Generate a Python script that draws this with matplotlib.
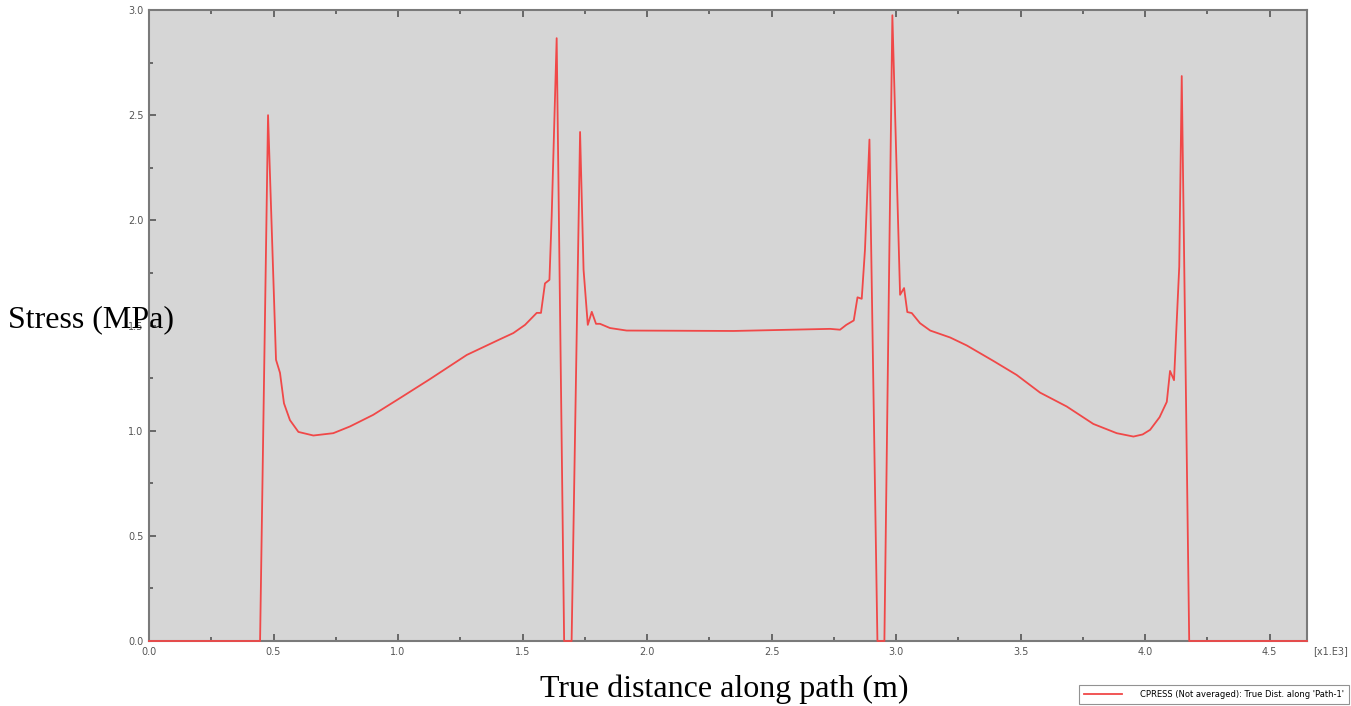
import matplotlib
matplotlib.use("Agg")
import matplotlib.pyplot as plt
from matplotlib.ticker import MultipleLocator

# Data (distance in x1.E3 m, stress in MPa)
distance = [0.0, 0.446, 0.478, 0.51, 0.526, 0.542, 0.566, 0.60, 0.66, 0.74,
            0.807, 0.90, 1.008, 1.128, 1.276, 1.41, 1.463, 1.51, 1.557, 1.574,
            1.59, 1.608, 1.617, 1.637, 1.667, 1.697, 1.731, 1.745, 1.762, 1.778,
            1.795, 1.811, 1.851, 1.918, 2.347, 2.735, 2.775, 2.80, 2.83, 2.845,
            2.862, 2.875, 2.893, 2.925, 2.953, 2.985, 3.016, 3.032, 3.045, 3.063,
            3.096, 3.137, 3.217, 3.284, 3.39, 3.484, 3.578, 3.685, 3.792, 3.886,
            3.953, 3.99, 4.02, 4.058, 4.087, 4.10, 4.116, 4.137, 4.147, 4.177, 4.65]
cpress = [0.0, 0.0, 2.50, 1.337, 1.275, 1.13, 1.05, 0.994, 0.977, 0.988,
          1.02, 1.075, 1.155, 1.245, 1.36, 1.435, 1.464, 1.503, 1.56, 1.56,
          1.70, 1.717, 2.02, 2.866, 0.0, 0.0, 2.42, 1.765, 1.503, 1.565,
          1.508, 1.508, 1.488, 1.476, 1.474, 1.484, 1.48, 1.503, 1.524, 1.634,
          1.627, 1.86, 2.384, 0.0, 0.0, 2.975, 1.646, 1.678, 1.564, 1.559,
          1.511, 1.476, 1.443, 1.405, 1.332, 1.265, 1.181, 1.115, 1.032, 0.988,
          0.972, 0.982, 1.004, 1.064, 1.137, 1.284, 1.24, 1.78, 2.686, 0.0, 0.0]

x_ticks = [0.0, 0.5, 1.0, 1.5, 2.0, 2.5, 3.0, 3.5, 4.0, 4.5]
y_ticks = [0.0, 0.5, 1.0, 1.5, 2.0, 2.5, 3.0]
series_label = "CPRESS (Not averaged): True Dist. along 'Path-1'"

fig = plt.figure(figsize=(13.51, 7.06), dpi=100)
ax = fig.add_axes([149/1351, 1 - 641/706, (1307 - 149)/1351, (641 - 10)/706])
ax.set_facecolor("#d6d6d6")

line, = ax.plot(distance, cpress, color="#f04848", lw=1.3, label=series_label,
                zorder=3, clip_on=False)

ax.set_xlim(0, 4.65)
ax.set_ylim(0, 3.0)
ax.set_xticks(x_ticks)
ax.set_yticks(y_ticks)
ax.set_xticklabels([f"{v:.1f}" for v in x_ticks])
ax.set_yticklabels([f"{v:.1f}" for v in y_ticks])
ax.xaxis.set_minor_locator(MultipleLocator(0.25))
ax.yaxis.set_minor_locator(MultipleLocator(0.25))
ax.tick_params(which="both", direction="in", top=True, right=False,
               color="#555555", labelsize=7, labelcolor="#555555", width=1.2)
ax.tick_params(which="major", length=5, pad=4)
ax.tick_params(which="minor", length=3)
for s in ax.spines.values():
    s.set_color("#7a7a7a")
    s.set_linewidth(1.5)

fig.text(1313/1351, 1 - 651/706, "[x1.E3]", fontsize=7, color="#555555",
         ha="left", va="center")

fig.text(8/1351, 1 - 320/706, "Stress (MPa)", fontsize=23,
         family="Liberation Serif", ha="left", va="center", zorder=10)
fig.text(724/1351, 1 - 689/706, "True distance along path (m)", fontsize=23,
         family="Liberation Serif", ha="center", va="center")

leg = fig.legend(handles=[line], loc="lower right",
                 bbox_to_anchor=(1349/1351, 2/706), fontsize=6,
                 frameon=True, fancybox=False, edgecolor="#777777",
                 handlelength=4.5, borderpad=0.6, handletextpad=2.2,
                 borderaxespad=0)
leg.get_frame().set_linewidth(0.8)

fig.savefig("out.png", dpi=100)
